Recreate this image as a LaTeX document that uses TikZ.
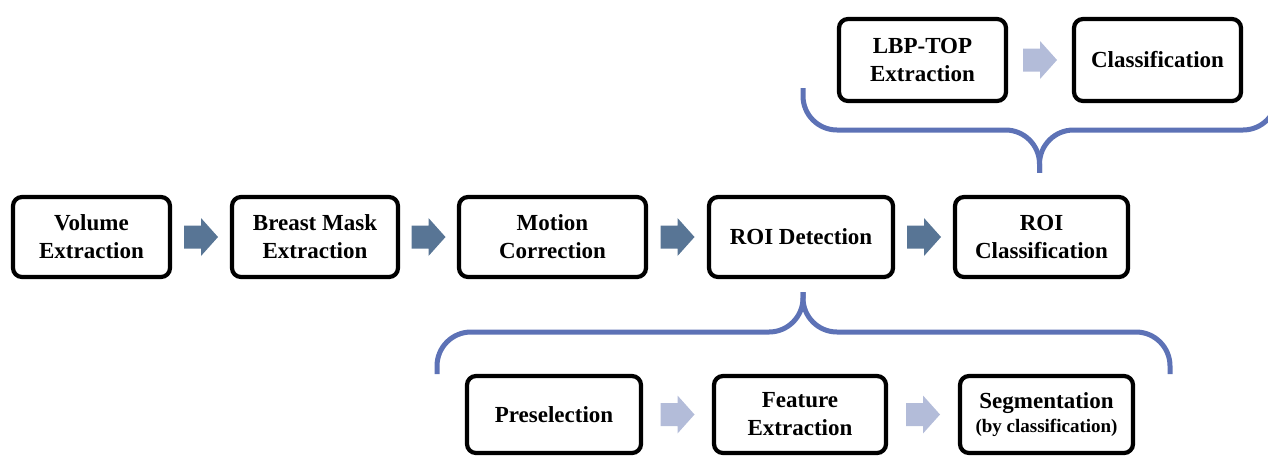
\documentclass[tikz,border=0pt]{standalone}
\usepackage{fontspec}
\setmainfont{Liberation Serif}
\usetikzlibrary{calc}
\definecolor{bracecol}{HTML}{5D72B6}
\definecolor{darkarrow}{HTML}{587595}
\definecolor{lightarrow}{HTML}{B3BCD9}
\tikzset{
  stage/.style={draw=black, line width=4.2pt, rounded corners=9pt, fill=white,
    align=center, inner sep=0pt, text=black,
    font=\fontsize{23}{28}\selectfont\bfseries},
  bracket/.style={draw=bracecol, line width=5pt, rounded corners=34pt},
  darkfill/.style={fill=darkarrow},
  lightfill/.style={fill=lightarrow},
}
% block arrow centred in the gap between two stages
\newcommand{\blockarrow}[3]{%
  \path ($(#1.east)!0.5!(#2.west)$) coordinate (m);
  \fill[#3] ($(m)+(-17,-11.5)$) -- ++(17,0) -- ++(0,-7.5) -- ++(17,19)
    -- ++(-17,19) -- ++(0,-7.5) -- ++(-17,0) -- cycle;
}
\begin{document}
\begin{tikzpicture}[x=1pt,y=-1pt]
\useasboundingbox (0,0) rectangle (1268,456);
\clip (0,0) rectangle (1268,456);

% main pipeline
\node[stage, minimum width=157, minimum height=80] (vol) at (91.5,237) {Volume\\Extraction};
\node[stage, minimum width=166, minimum height=80] (mask) at (315,237) {Breast Mask\\Extraction};
\node[stage, minimum width=187, minimum height=80] (mot) at (552.5,237) {Motion\\Correction};
\node[stage, minimum width=184, minimum height=80] (roid) at (801,237) {ROI Detection};
\node[stage, minimum width=173, minimum height=80] (roic) at (1041.5,237) {ROI\\Classification};

% classification sub-steps
\node[stage, minimum width=167, minimum height=82] (lbp) at (922.5,60) {LBP-TOP\\Extraction};
\node[stage, minimum width=167, minimum height=82] (cls) at (1157.5,60) {Classification};

% detection sub-steps
\node[stage, minimum width=174, minimum height=77] (pre) at (554,414.5) {Preselection};
\node[stage, minimum width=172, minimum height=77] (feat) at (800,414.5) {Feature\\Extraction};
\node[stage, minimum width=173, minimum height=77] (seg) at (1046.5,414.5)
  {Segmentation\\[-4pt]{\fontsize{19}{20}\selectfont(by classification)}};

% arrows
\blockarrow{vol}{mask}{darkfill}
\blockarrow{mask}{mot}{darkfill}
\blockarrow{mot}{roid}{darkfill}
\blockarrow{roid}{roic}{darkfill}
\blockarrow{lbp}{cls}{lightfill}
\blockarrow{pre}{feat}{lightfill}
\blockarrow{feat}{seg}{lightfill}

% braces
\coordinate (ttip) at ($(roic.north)+(-2,-22)$);
\coordinate (btip) at ($(roid.south)+(2,13)$);
\draw[bracket] (803,88) -- (803,130) -- (ttip |- 0,130) -- (ttip);
\draw[bracket] (1277,88) -- (1277,130) -- (ttip |- 0,130) -- (ttip);
\draw[bracket] (437,374) -- (437,332) -- (btip |- 0,332) -- (btip);
\draw[bracket] (1170,374) -- (1170,332) -- (btip |- 0,332) -- (btip);
\end{tikzpicture}
\end{document}
